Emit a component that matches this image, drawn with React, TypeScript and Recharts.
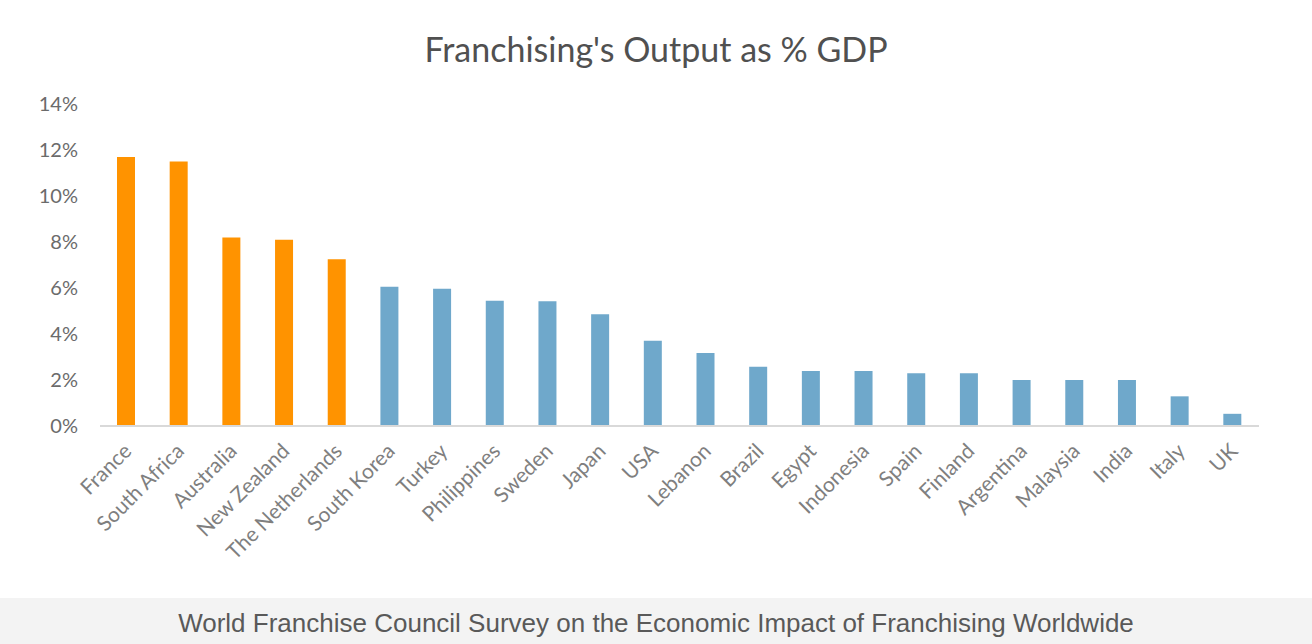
import { BarChart, Bar, Cell, XAxis, YAxis } from "recharts";

// values, % of GDP
const countries = [
  "France", "South Africa", "Australia", "New Zealand", "The Netherlands",
  "South Korea", "Turkey", "Philippines", "Sweden", "Japan", "USA",
  "Lebanon", "Brazil", "Egypt", "Indonesia", "Spain", "Finland",
  "Argentina", "Malaysia", "India", "Italy", "UK",
];
const shares = [
  11.7, 11.5, 8.2, 8.1, 7.25, 6.05, 5.97, 5.45, 5.42, 4.86, 3.71,
  3.17, 2.58, 2.39, 2.39, 2.29, 2.29, 2.0, 2.0, 2.0, 1.29, 0.53,
];
const highlighted = ["France", "South Africa", "Australia", "New Zealand", "The Netherlands"];
const yTicks = [0, 2, 4, 6, 8, 10, 12, 14];

const rows = countries.map((c, i) => ({ country: c, share: shares[i] }));

const ORANGE = "#ff9300";
const BLUE = "#6fa8cb";
const FONT = "Lato, 'Open Sans', sans-serif";

function CountryTick({ x, y, payload }: any) {
  return (
    <g transform={`translate(${x + 2},${y + 14})`}>
      <text
        x={0}
        y={0}
        dy="0.3em"
        textAnchor="end"
        transform="rotate(-45)"
        fontSize={21}
        fontFamily={FONT}
        fill="#7f7f7f"
      >
        {payload.value}
      </text>
    </g>
  );
}

export default function App() {
  return (
    <div style={{ position: "absolute", left: 0, top: 0, width: 1312, height: 644, background: "#fff" }}>
      <div
        style={{
          position: "absolute", left: 0, top: 28, width: 1312, textAlign: "center",
          fontFamily: FONT, fontSize: 34, color: "#505050",
        }}
      >
        Franchising's Output as % GDP
      </div>
      <BarChart
        width={1312}
        height={598}
        data={rows}
        margin={{ top: 104, right: 53, left: 0, bottom: 142 }}
        barCategoryGap={0}
      >
        <XAxis
          dataKey="country"
          interval={0}
          tick={<CountryTick />}
          tickLine={false}
          axisLine={{ stroke: "#d9d9d9", strokeWidth: 2 }}
        />
        <YAxis
          width={100}
          domain={[0, 14]}
          ticks={yTicks}
          tickFormatter={(v: number) => `${v}%`}
          tick={{ fontSize: 20, fontFamily: FONT, fill: "#6b6b6b" }}
          axisLine={false}
          tickLine={false}
          tickSize={6}
          tickMargin={16}
        />
        <Bar dataKey="share" barSize={18} isAnimationActive={false}>
          {rows.map((r, i) => (
            <Cell key={i} fill={highlighted.includes(r.country) ? ORANGE : BLUE} />
          ))}
        </Bar>
      </BarChart>
      <div
        style={{
          position: "absolute", left: 0, top: 598, width: 1312, height: 46,
          background: "#f3f3f3", textAlign: "center", lineHeight: "50px",
          fontFamily: "'Liberation Sans', Arial, sans-serif", fontSize: 26, color: "#595959",
        }}
      >
        World Franchise Council Survey on the Economic Impact of Franchising Worldwide
      </div>
    </div>
  );
}
